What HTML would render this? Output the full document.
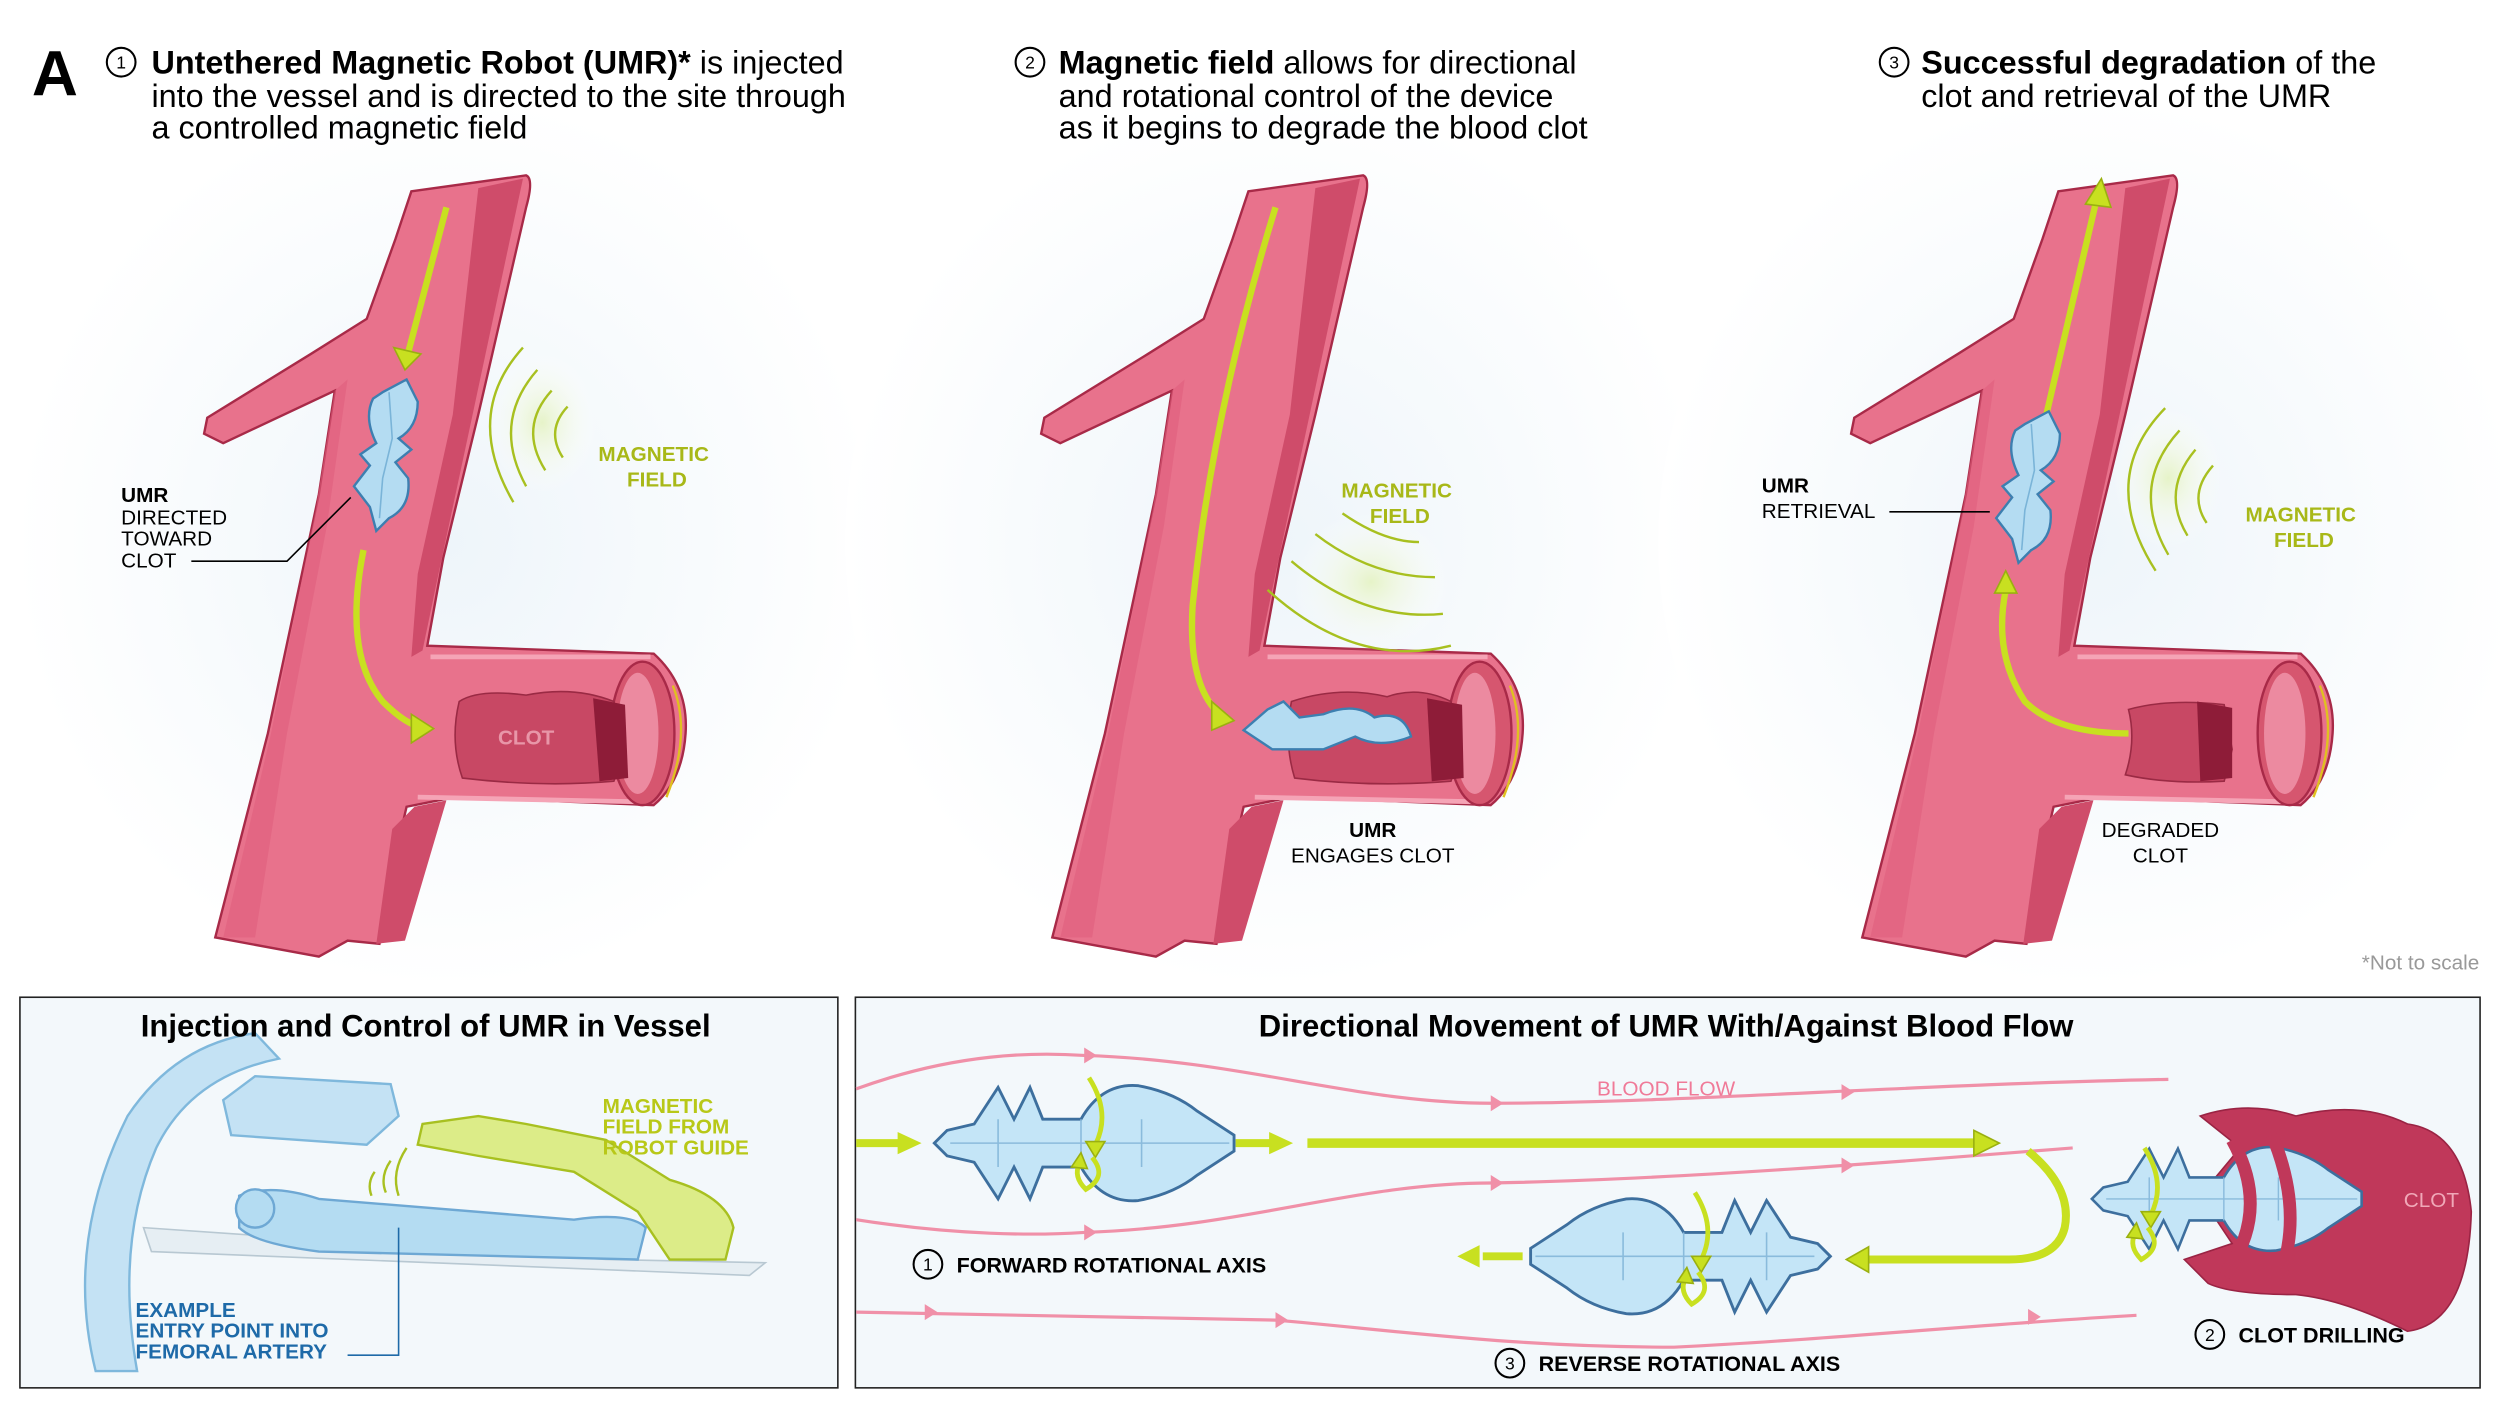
<!DOCTYPE html>
<html><head><meta charset="utf-8">
<style>
html,body{margin:0;padding:0;background:#fff;}
svg{display:block;}
text{font-family:"Liberation Sans",Arial,sans-serif;}
</style></head><body>
<svg width="2500" height="1403" viewBox="0 0 1568 880" preserveAspectRatio="none" xmlns="http://www.w3.org/2000/svg">
<defs>
<radialGradient id="bg" cx="0.5" cy="0.5" r="0.5">
<stop offset="0" stop-color="#eef5fa"/><stop offset="1" stop-color="#ffffff"/>
</radialGradient>
<radialGradient id="mf" cx="0.5" cy="0.5" r="0.5">
<stop offset="0" stop-color="#e6f3c8"/><stop offset="1" stop-color="#ffffff" stop-opacity="0"/>
</radialGradient>
<g id="vessel">
<path d="M258,120 L330,110 Q335,112 330,130 L300,260 L278,350 L268,405 L410,410 Q432,430 430,460 Q428,490 410,505 L285,500 L255,506 L246,545 L238,592 L218,590 L200,600 L135,588 L168,460 L200,310 L210,245 L140,278 L128,272 L130,262 L195,222 L230,200 L248,150 Z" fill="#e8728c" stroke="#a82a48" stroke-width="1.5"/>
<path d="M300,118 L328,112 L296,262 L275,360 L265,408 L258,412 L262,360 L284,260 Z" fill="#cf4c6a"/>
<path d="M246,520 L260,506 L280,502 L254,590 L236,592 Z" fill="#cf4c6a"/>
<path d="M210,245 L218,238 L205,330 L180,460 L160,588 L140,588 L170,460 L198,320 Z" fill="#e05f7d" opacity="0.6"/>
<path d="M270,412 L408,412" stroke="#f5a4b6" stroke-width="3" fill="none"/>
<path d="M262,500 L405,503" stroke="#f5a4b6" stroke-width="3" fill="none"/>
<ellipse cx="403" cy="460" rx="20" ry="45" fill="#d6566f" stroke="#a82a48" stroke-width="1.5"/>
<ellipse cx="400" cy="460" rx="13" ry="38" fill="#ec8aa0"/>
<path d="M422,430 Q434,460 418,500" stroke="#e0c020" stroke-width="1.5" fill="none"/>
</g>
<g id="umrV">
<path d="M240,246 L255,238 L262,252 Q262,268 250,275 L258,282 L248,290 L256,300 Q258,318 244,325 L236,333 L232,318 L222,305 L232,292 L226,285 L236,278 Q228,262 234,250 Z" fill="#b4dcf2" stroke="#3d7fb0" stroke-width="1.5"/>
<path d="M244,246 L246,275 L240,300 L238,325" stroke="#7ab4d8" stroke-width="1" fill="none"/>
</g>
<g id="umrH">
<path d="M0,0 L8,-8 L25,-12 L40,-35 L50,-15 L60,-35 L68,-15 L92,-15 Q105,-38 128,-36 Q150,-32 165,-20 L188,-5 L188,5 L165,20 Q150,32 128,36 Q105,38 92,15 L68,15 L60,35 L50,15 L40,35 L25,12 L8,8 Z" fill="#c4e5f7" stroke="#3d6f9e" stroke-width="1.8"/>
<path d="M10,0 L185,0 M40,-15 L40,15 M92,-15 L92,15 M130,-15 L130,15" stroke="#8abbdc" stroke-width="1" fill="none"/>
</g>
<g id="rot">
<path d="M0,-32 Q14,-10 4,10" stroke="#c8e020" stroke-width="3" fill="none"/>
<path d="M-2,8 L4,18 L10,8 Z" fill="#c8e020" stroke="#9ab010"/>
<path d="M2,18 Q12,30 -2,38 Q-10,30 -6,22" stroke="#c8e020" stroke-width="3" fill="none"/>
<path d="M-11,24 L-5,15 L-1,25 Z" fill="#c8e020" stroke="#9ab010"/>
</g>
</defs>
<rect width="1568" height="880" fill="#fff"/>
<ellipse cx="280" cy="340" rx="270" ry="280" fill="url(#bg)"/>
<ellipse cx="800" cy="340" rx="270" ry="280" fill="url(#bg)"/>
<ellipse cx="1310" cy="340" rx="270" ry="280" fill="url(#bg)"/>

<!-- header -->
<text x="20" y="60" font-size="40" font-weight="bold">A</text>
<circle cx="76" cy="39" r="9" fill="none" stroke="#000" stroke-width="1.3"/><text x="76" y="43" font-size="11" text-anchor="middle">1</text>
<text font-size="20.3" x="95" y="46"><tspan font-weight="bold">Untethered Magnetic Robot (UMR)*</tspan> is injected</text>
<text font-size="20.3" x="95" y="67">into the vessel and is directed to the site through</text>
<text font-size="20.3" x="95" y="87">a controlled magnetic field</text>
<circle cx="646" cy="39" r="9" fill="none" stroke="#000" stroke-width="1.3"/><text x="646" y="43" font-size="11" text-anchor="middle">2</text>
<text font-size="20.3" x="664" y="46"><tspan font-weight="bold">Magnetic field</tspan> allows for directional</text>
<text font-size="20.3" x="664" y="67">and rotational control of the device</text>
<text font-size="20.3" x="664" y="87">as it begins to degrade the blood clot</text>
<circle cx="1188" cy="39" r="9" fill="none" stroke="#000" stroke-width="1.3"/><text x="1188" y="43" font-size="11" text-anchor="middle">3</text>
<text font-size="20.3" x="1205" y="46"><tspan font-weight="bold">Successful degradation</tspan> of the</text>
<text font-size="20.3" x="1205" y="67">clot and retrieval of the UMR</text>

<!-- panel 1 -->
<use href="#vessel"/>
<path d="M288,440 Q300,432 330,436 Q360,430 385,440 L392,470 L385,490 Q340,494 290,488 Q282,465 288,440 Z" fill="#c84864" stroke="#9a2a44" stroke-width="1"/>
<path d="M372,438 L392,442 L394,488 L376,490 Z" fill="#8e1c38"/>
<text x="330" y="467" font-size="13" font-weight="bold" fill="#e896a8" text-anchor="middle">CLOT</text>
<path d="M280,130 L255,225" stroke="#c8e020" stroke-width="4" fill="none"/>
<path d="M247,218 L254,232 L264,222 Z" fill="#c8e020" stroke="#9ab010"/>
<path d="M228,345 Q215,410 240,440 Q255,455 265,456" stroke="#c8e020" stroke-width="4" fill="none"/>
<path d="M258,448 L272,457 L258,466 Z" fill="#c8e020" stroke="#9ab010"/>
<use href="#umrV"/>
<ellipse cx="340" cy="265" rx="35" ry="45" fill="url(#mf)"/>
<g stroke="#a8c020" stroke-width="1.5" fill="none">
<path d="M328,218 Q290,260 322,315"/><path d="M337,232 Q308,265 330,305"/><path d="M346,245 Q325,268 342,295"/><path d="M356,255 Q342,270 353,287"/>
</g>
<text x="410" y="289" font-size="13" font-weight="bold" fill="#a8b818" text-anchor="middle">MAGNETIC</text>
<text x="412" y="305" font-size="13" font-weight="bold" fill="#a8b818" text-anchor="middle">FIELD</text>
<text x="76" y="315" font-size="13" font-weight="bold">UMR</text>
<text x="76" y="329" font-size="13">DIRECTED</text>
<text x="76" y="342" font-size="13">TOWARD</text>
<text x="76" y="356" font-size="13">CLOT</text>
<path d="M120,352 L180,352 L220,312" stroke="#000" stroke-width="1" fill="none"/>

<!-- panel 2 -->
<use href="#vessel" transform="translate(525,0)"/>
<path d="M810,440 Q840,430 870,437 Q890,430 910,440 L917,470 L910,490 Q860,494 812,488 Q805,465 810,440 Z" fill="#c84864" stroke="#9a2a44" stroke-width="1"/>
<path d="M895,438 L917,442 L918,488 L898,490 Z" fill="#8e1c38"/>
<path d="M800,130 Q760,260 748,380 Q745,430 765,448" stroke="#c8e020" stroke-width="4" fill="none"/>
<path d="M760,440 L774,452 L760,458 Z" fill="#c8e020" stroke="#9ab010"/>
<path d="M780,458 L795,445 L805,440 L815,450 L830,448 Q850,440 862,450 Q880,445 885,462 Q865,470 850,462 L830,470 L812,470 L798,470 Z" fill="#b4dcf2" stroke="#3d7fb0" stroke-width="1.5"/>
<ellipse cx="860" cy="365" rx="50" ry="45" fill="url(#mf)"/>
<g stroke="#a8c020" stroke-width="1.5" fill="none">
<path d="M795,370 Q850,420 910,405"/><path d="M810,352 Q855,390 905,385"/><path d="M825,335 Q860,362 900,362"/><path d="M842,322 Q868,340 890,340"/>
</g>
<text x="876" y="312" font-size="13" font-weight="bold" fill="#a8b818" text-anchor="middle">MAGNETIC</text>
<text x="878" y="328" font-size="13" font-weight="bold" fill="#a8b818" text-anchor="middle">FIELD</text>
<text x="861" y="525" font-size="13" font-weight="bold" text-anchor="middle">UMR</text>
<text x="861" y="541" font-size="13" text-anchor="middle">ENGAGES CLOT</text>

<!-- panel 3 -->
<use href="#vessel" transform="translate(1033,0)"/>
<path d="M1335,445 Q1360,438 1395,442 L1400,470 L1395,490 Q1360,492 1333,486 Q1340,465 1335,445 Z" fill="#c84864" stroke="#9a2a44" stroke-width="1"/>
<path d="M1378,440 L1400,444 L1400,488 L1380,490 Z" fill="#8e1c38"/>
<path d="M1335,460 Q1290,460 1270,440 Q1250,410 1258,370" stroke="#c8e020" stroke-width="4" fill="none"/>
<path d="M1251,372 L1258,358 L1265,372 Z" fill="#c8e020" stroke="#9ab010"/>
<path d="M1283,262 L1315,125" stroke="#c8e020" stroke-width="4" fill="none"/>
<path d="M1308,128 L1318,112 L1324,130 Z" fill="#c8e020" stroke="#9ab010"/>
<use href="#umrV" transform="translate(1030,20)"/>
<ellipse cx="1360" cy="300" rx="35" ry="45" fill="url(#mf)"/>
<g stroke="#a8c020" stroke-width="1.5" fill="none">
<path d="M1358,256 Q1315,300 1352,358"/><path d="M1367,270 Q1335,305 1360,348"/><path d="M1377,282 Q1355,308 1372,336"/><path d="M1388,292 Q1372,310 1384,328"/>
</g>
<text x="1443" y="327" font-size="13" font-weight="bold" fill="#a8b818" text-anchor="middle">MAGNETIC</text>
<text x="1445" y="343" font-size="13" font-weight="bold" fill="#a8b818" text-anchor="middle">FIELD</text>
<text x="1105" y="309" font-size="13" font-weight="bold">UMR</text>
<text x="1105" y="325" font-size="13">RETRIEVAL</text>
<path d="M1185,321 L1248,321" stroke="#000" stroke-width="1"/>
<text x="1355" y="525" font-size="13" text-anchor="middle">DEGRADED</text>
<text x="1355" y="541" font-size="13" text-anchor="middle">CLOT</text>
<text x="1555" y="608" font-size="13" fill="#999" text-anchor="end">*Not to scale</text>

<!-- bottom left box -->
<rect x="12.5" y="625.5" width="513" height="245" fill="#f3f8fb" stroke="#222" stroke-width="1"/>
<path d="M60,860 Q40,780 80,700 Q110,655 160,648 L175,664 Q120,675 98,720 Q72,780 86,860 Z" fill="#c4e2f4" stroke="#7fb8dc" stroke-width="1.5"/>
<path d="M140,690 L160,675 L245,680 L250,700 L230,718 L145,712 Z" fill="#c4e2f4" stroke="#7fb8dc" stroke-width="1.5"/>
<text x="267" y="650" font-size="19.5" font-weight="bold" text-anchor="middle">Injection and Control of UMR in Vessel</text>
<path d="M90,770 L380,790 L480,792 L470,800 L95,785 Z" fill="#e6eef3" stroke="#b8c8d2"/>
<path d="M150,750 Q170,742 200,752 L360,765 Q395,760 405,770 L400,790 L200,785 Q160,780 150,770 Z" fill="#b4dcf2" stroke="#6ea8d4" stroke-width="1.5"/>
<circle cx="160" cy="758" r="12" fill="#b4dcf2" stroke="#6ea8d4" stroke-width="1.5"/>
<path d="M265,705 L300,700 L330,705 L380,715 L420,740 Q455,750 460,770 L455,790 L420,790 L400,760 L360,735 L300,725 L262,718 Z" fill="#dcec88" stroke="#a8c020" stroke-width="1.5"/>
<g stroke="#a8c020" stroke-width="1.5" fill="none">
<path d="M255,720 Q245,735 250,750"/><path d="M245,728 Q238,738 242,748"/><path d="M235,735 Q230,742 233,750"/>
</g>
<text x="378" y="698" font-size="13" font-weight="bold" fill="#b8c818">MAGNETIC</text>
<text x="378" y="711" font-size="13" font-weight="bold" fill="#b8c818">FIELD FROM</text>
<text x="378" y="724" font-size="13" font-weight="bold" fill="#b8c818">ROBOT GUIDE</text>
<text x="85" y="826" font-size="13" font-weight="bold" fill="#1e6aa8">EXAMPLE</text>
<text x="85" y="839" font-size="13" font-weight="bold" fill="#1e6aa8">ENTRY POINT INTO</text>
<text x="85" y="852" font-size="13" font-weight="bold" fill="#1e6aa8">FEMORAL ARTERY</text>
<path d="M218,850 L250,850 L250,770" stroke="#1e6aa8" stroke-width="1" fill="none"/>

<!-- bottom right box -->
<rect x="536.5" y="625.5" width="1019" height="245" fill="#f3f8fb" stroke="#222" stroke-width="1"/>
<text x="1045" y="650" font-size="19.5" font-weight="bold" text-anchor="middle">Directional Movement of UMR With/Against Blood Flow</text>
<g stroke="#f090a8" stroke-width="2" fill="none">
<path d="M537,683 C600,660 650,660 680,662 C780,665 850,692 935,692 C1050,692 1200,680 1360,677"/>
<path d="M537,765 C600,775 650,775 680,773 C780,770 850,742 935,742 C1050,740 1200,728 1300,720"/>
<path d="M537,823 L800,828 C880,835 950,845 1050,845 C1150,840 1250,830 1340,825"/>
</g>
<g fill="#f090a8">
<path d="M680,657 L688,662 L680,667 Z"/><path d="M935,687 L943,692 L935,697 Z"/><path d="M1155,680 L1163,685 L1155,690 Z"/>
<path d="M935,737 L943,742 L935,747 Z"/><path d="M1155,726 L1163,731 L1155,736 Z"/><path d="M680,768 L688,773 L680,778 Z"/>
<path d="M580,818 L588,823 L580,828 Z"/><path d="M800,823 L808,828 L800,833 Z"/><path d="M1272,821 L1280,826 L1272,831 Z"/>
</g>
<text x="1045" y="687" font-size="13" fill="#f07a98" text-anchor="middle">BLOOD FLOW</text>
<path d="M820,717 L1240,717" stroke="#c8e020" stroke-width="6"/>
<path d="M1238,709 L1254,717 L1238,725 Z" fill="#c8e020" stroke="#9ab010"/>
<path d="M537,717 L565,717" stroke="#c8e020" stroke-width="5"/><path d="M563,710 L578,717 L563,724 Z" fill="#c8e020"/>
<path d="M775,717 L798,717" stroke="#c8e020" stroke-width="5"/><path d="M796,710 L811,717 L796,724 Z" fill="#c8e020"/>
<use href="#umrH" transform="translate(586,717)"/>
<use href="#rot" transform="translate(683,708)"/>
<path d="M1272,722 Q1300,745 1295,770 Q1290,790 1260,790 L1170,790" stroke="#c8e020" stroke-width="5" fill="none"/>
<path d="M1172,782 L1158,790 L1172,798 Z" fill="#c8e020" stroke="#9ab010"/>
<path d="M930,788 L955,788" stroke="#c8e020" stroke-width="5"/><path d="M928,781 L914,788 L928,795 Z" fill="#c8e020"/>
<use href="#umrH" transform="translate(1148,788) scale(-1,1)"/>
<use href="#rot" transform="translate(1063,780)"/>
<path d="M1380,700 Q1410,690 1440,700 Q1480,690 1510,705 Q1545,710 1550,760 Q1548,830 1510,835 Q1470,815 1440,812 Q1400,812 1385,805 L1370,790 L1400,780 L1380,750 L1405,720 Z" fill="#c0385a" stroke="#9a2444" stroke-width="1"/>
<use href="#umrH" transform="translate(1312,752) scale(0.9)"/>
<path d="M1400,715 Q1425,760 1395,800 M1425,712 Q1445,760 1430,800" stroke="#c0385a" stroke-width="8" fill="none"/>
<use href="#rot" transform="translate(1345,752)"/>
<text x="1525" y="757" font-size="13" fill="#f0a8b8" text-anchor="middle">CLOT</text>
<circle cx="582" cy="793" r="9" fill="none" stroke="#000" stroke-width="1.3"/><text x="582" y="797" font-size="11" text-anchor="middle">1</text>
<text x="600" y="798" font-size="13.5" font-weight="bold">FORWARD ROTATIONAL AXIS</text>
<circle cx="947" cy="855" r="9" fill="none" stroke="#000" stroke-width="1.3"/><text x="947" y="859" font-size="11" text-anchor="middle">3</text>
<text x="965" y="860" font-size="13.5" font-weight="bold">REVERSE ROTATIONAL AXIS</text>
<circle cx="1386" cy="837" r="9" fill="none" stroke="#000" stroke-width="1.3"/><text x="1386" y="841" font-size="11" text-anchor="middle">2</text>
<text x="1404" y="842" font-size="13.5" font-weight="bold">CLOT DRILLING</text>
</svg>
</body></html>
